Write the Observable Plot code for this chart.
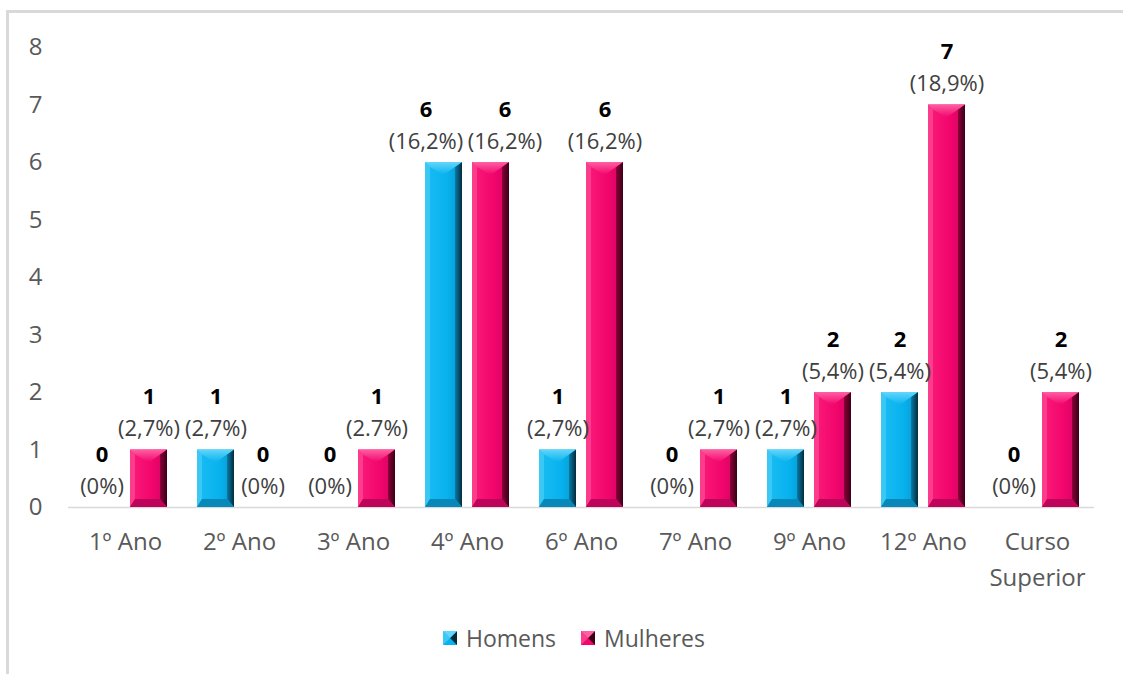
<!DOCTYPE html>
<html lang="pt">
<head>
<meta charset="utf-8">
<script src="https://cdn.jsdelivr.net/npm/d3@7"></script>
<script src="https://cdn.jsdelivr.net/npm/@observablehq/plot@0.6"></script>
<style>
  html, body { margin: 0; padding: 0; background: #fff; }
  body { width: 1123px; height: 674px; position: relative; overflow: hidden; font-family: "Open Sans", Lato, sans-serif; }
  #moldura { position: absolute; left: 6px; top: 10px; width: 1200px; height: 800px;
             border-left: 3px solid #d9d9d9; border-top: 3px solid #d9d9d9; }
  #grafico { position: absolute; left: 0; top: 0; }
  #legenda { position: absolute; left: 0; top: 620px; width: 1123px; height: 36px;
             display: flex; justify-content: center; align-items: center; gap: 25px;
             font-size: 23px; color: #595959; padding-left: 25px; box-sizing: border-box; }
  .item { display: flex; align-items: center; gap: 9px; }
  .item svg { display: block; }
</style>
</head>
<body>
<div id="moldura"></div>
<div id="grafico"></div>
<div id="legenda"></div>
<script>
// Escolaridade por sexo
const categorias = ["1º Ano", "2º Ano", "3º Ano", "4º Ano", "6º Ano", "7º Ano", "9º Ano", "12º Ano", "Curso Superior"];
const series = ["Homens", "Mulheres"];
const homens = [0, 1, 0, 6, 1, 0, 1, 2, 0];
const mulheres = [1, 0, 1, 6, 6, 1, 2, 7, 2];
const pctHomens = ["(0%)", "(2,7%)", "(0%)", "(16,2%)", "(2,7%)", "(0%)", "(2,7%)", "(5,4%)", "(0%)"];
const pctMulheres = ["(2,7%)", "(0%)", "(2.7%)", "(16,2%)", "(16,2%)", "(2,7%)", "(5,4%)", "(18,9%)", "(5,4%)"];
const yTicks = [0, 1, 2, 3, 4, 5, 6, 7, 8];

const cores = ["#0AB4EE", "#F5076E"];

// bevel shades for each series colour
const tons = {
  "#0AB4EE": { id: "az", left: "#3cc8f5", top: "#62d6fb", bottom: "#0788b8",
               body: ["#1bbdf3", "#08b2ee", "#0597cf"], side: ["#0a7ba6", "#032b3c"] },
  "#F5076E": { id: "ro", left: "#fb3d8c", top: "#ff5fa3", bottom: "#bd035a",
               body: ["#fa1c79", "#f2056c", "#cf0460"], side: ["#8a0037", "#3a0018"] }
};

const linhas = categorias.flatMap((c, i) => [
  { categoria: c, serie: "Homens", valor: homens[i], pct: pctHomens[i], empate: homens[i] === mulheres[i] },
  { categoria: c, serie: "Mulheres", valor: mulheres[i], pct: pctMulheres[i], empate: homens[i] === mulheres[i] }
]);

const NS = "http://www.w3.org/2000/svg";
function poligono(pts, fill) {
  const p = document.createElementNS(NS, "polygon");
  p.setAttribute("points", pts.map(q => q.join(",")).join(" "));
  p.setAttribute("fill", fill);
  return p;
}

// draws the bevelled faces on top of each bar rectangle
function chanfro(index, scales, values, dimensions, context, next) {
  const g = next(index, scales, values, dimensions, context);
  for (const r of Array.from(g.querySelectorAll("rect"))) {
    const x = +r.getAttribute("x"), y = +r.getAttribute("y");
    const w = +r.getAttribute("width"), h = +r.getAttribute("height");
    const t = tons[r.getAttribute("fill")];
    if (!t || !(h > 2)) continue;
    r.setAttribute("fill", `url(#corpo-${t.id})`);
    const ds = 5, dr = 7, dt = Math.min(13, h / 2), db = Math.min(8, h / 3);
    const faces = [
      poligono([[x, y], [x + ds, y + ds], [x + ds, y + h - db], [x, y + h]], t.left),
      poligono([[x + w, y], [x + w, y + h], [x + w - dr, y + h - db], [x + w - dr, y + ds]], `url(#lado-${t.id})`),
      poligono([[x, y + h], [x + w, y + h], [x + w - dr, y + h - db], [x + ds, y + h - db]], t.bottom),
      poligono([[x, y], [x + w, y], [x + w - dr, y + ds], [x + w / 2, y + dt], [x + ds, y + ds]], `url(#topo-${t.id})`)
    ];
    let ref = r;
    for (const f of faces) { ref.after(f); ref = f; }
  }
  return g;
}

// value + percentage labels; labels of equal-height pairs are pushed apart
function rotulos(filtro, dx) {
  const base = { fx: "categoria", x: "serie", y: "valor", dx, filter: filtro };
  return [
    Plot.text(linhas, { ...base, text: "pct", dy: -21, fontSize: 22, fill: "#404040" }),
    Plot.text(linhas, { ...base, text: d => String(d.valor), dy: -53, fontSize: 22, fontWeight: "bold", fill: "#000" })
  ];
}

const grafico = Plot.plot({
  width: 1123,
  height: 600,
  marginLeft: 67,
  marginRight: 28,
  marginTop: 47,
  marginBottom: 93,
  style: { fontFamily: "'Open Sans', Lato, sans-serif", background: "transparent", overflow: "visible" },
  fx: { domain: categorias, padding: 0, label: null },
  x: { domain: series, paddingInner: 0.208, paddingOuter: 0.294, axis: null },
  y: { domain: [0, 8], axis: null },
  color: { domain: series, range: cores },
  marks: [
    Plot.ruleY([0], { stroke: "#d9d9d9", strokeWidth: 1.5 }),
    Plot.barY(linhas, { fx: "categoria", x: "serie", y: "valor", fill: "serie", render: chanfro }),
    ...rotulos(d => !(d.empate && d.valor > 0), 0),
    ...rotulos(d => d.empate && d.valor > 0 && d.serie === "Homens", -18),
    ...rotulos(d => d.empate && d.valor > 0 && d.serie === "Mulheres", 14),
    Plot.axisY({ ticks: yTicks, tickSize: 0, tickPadding: 26, fontSize: 24, fill: "#595959", label: null }),
    Plot.axisFx({ anchor: "bottom", tickSize: 0, tickPadding: 17, fontSize: 24, fill: "#595959",
                  lineWidth: 5, lineHeight: 1.5, label: null })
  ]
});

// gradients used by the bevel faces
const defs = document.createElementNS(NS, "defs");
for (const t of Object.values(tons)) {
  defs.innerHTML += `
    <linearGradient id="corpo-${t.id}" x1="0" x2="1" y1="0" y2="0">
      <stop offset="0" stop-color="${t.body[0]}"/><stop offset="0.6" stop-color="${t.body[1]}"/>
      <stop offset="1" stop-color="${t.body[2]}"/></linearGradient>
    <linearGradient id="lado-${t.id}" x1="0" x2="1" y1="0" y2="0">
      <stop offset="0" stop-color="${t.side[0]}"/><stop offset="1" stop-color="${t.side[1]}"/></linearGradient>
    <linearGradient id="topo-${t.id}" x1="0" x2="0" y1="0" y2="1">
      <stop offset="0" stop-color="${t.top}"/><stop offset="1" stop-color="${t.body[1]}"/></linearGradient>`;
}
grafico.insertBefore(defs, grafico.firstChild);
document.getElementById("grafico").appendChild(grafico);

// legend
const legenda = document.getElementById("legenda");
series.forEach((s, i) => {
  const t = tons[cores[i]];
  const item = document.createElement("div");
  item.className = "item";
  item.innerHTML = `<svg width="14" height="14" viewBox="0 0 14 14">
      <rect width="14" height="14" fill="${t.body[1]}"/>
      <polygon points="0,0 7,7 0,14" fill="${t.left}"/>
      <polygon points="14,0 14,14 7,7" fill="${t.side[1]}"/>
      <polygon points="0,0 14,0 7,7" fill="${t.top}"/>
    </svg><span>${s}</span>`;
  legenda.appendChild(item);
});
</script>
</body>
</html>
